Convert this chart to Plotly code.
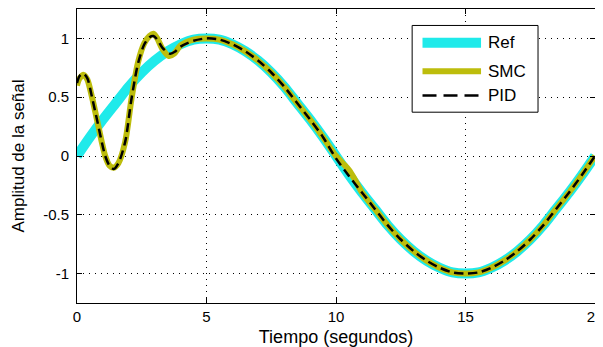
import plotly.graph_objects as go

# ---- data ----
t_ref = [i * 0.5 for i in range(41)]
y_ref = [0, 0.16, 0.31, 0.45, 0.59, 0.71, 0.81, 0.89, 0.95, 0.99, 1.0, 0.99, 0.95, 0.89, 0.81,
         0.71, 0.59, 0.45, 0.31, 0.16, 0, -0.16, -0.31, -0.45, -0.59, -0.71, -0.81, -0.89,
         -0.95, -0.99, -1.0, -0.99, -0.95, -0.89, -0.81, -0.71, -0.59, -0.45, -0.31, -0.16, 0]

t_smc = [0, 0.1, 0.26, 0.4, 0.58, 0.8, 1.09, 1.25, 1.41, 1.6, 1.86, 2.1, 2.36, 2.6, 2.8, 2.95,
         3.1, 3.3, 3.55, 3.75, 4.0, 4.5, 5, 5.5, 6, 6.5, 7, 7.5, 8, 8.5, 9, 9.5, 10, 10.3, 10.5,
         10.7, 11, 11.5, 12, 12.5, 13, 13.5, 14, 14.5, 15, 15.5, 16, 16.5, 17, 17.5, 18, 18.5,
         19, 19.5, 20]
y_smc = [0.60, 0.66, 0.69, 0.65, 0.50, 0.28, 0.0, -0.08, -0.10, -0.06, 0.12, 0.48, 0.80, 0.96,
         1.02, 1.04, 1.00, 0.91, 0.85, 0.87, 0.94, 0.99, 1.0, 0.99, 0.95, 0.89, 0.81, 0.71, 0.59,
         0.45, 0.31, 0.16, 0.0, -0.07, -0.12, -0.19, -0.31, -0.45, -0.59, -0.71, -0.81, -0.89,
         -0.95, -0.99, -1.0, -0.99, -0.95, -0.89, -0.81, -0.71, -0.59, -0.45, -0.31, -0.16, 0]

t_pid = [0, 0.1, 0.25, 0.4, 0.58, 0.8, 1.09, 1.25, 1.42, 1.6, 1.86, 2.1, 2.36, 2.6, 2.8, 2.95,
         3.1, 3.3, 3.6, 3.8, 4.0, 4.5, 5, 5.5, 6, 6.5, 7, 7.5, 8, 8.5, 9, 9.5, 10, 10.5, 11,
         11.5, 12, 12.5, 13, 13.5, 14, 14.5, 15, 15.5, 16, 16.5, 17, 17.5, 18, 18.5, 19, 19.5, 20]
y_pid = [0.62, 0.68, 0.70, 0.66, 0.50, 0.28, 0.0, -0.08, -0.11, -0.06, 0.12, 0.48, 0.79, 0.95,
         1.01, 1.02, 0.99, 0.92, 0.87, 0.89, 0.93, 0.98, 1.0, 0.99, 0.95, 0.89, 0.81, 0.71, 0.59,
         0.45, 0.31, 0.16, -0.02, -0.17, -0.31, -0.45, -0.59, -0.71, -0.81, -0.89, -0.95, -0.99,
         -1.0, -0.99, -0.95, -0.89, -0.81, -0.71, -0.59, -0.45, -0.31, -0.16, 0]

x_ticks = [0, 5, 10, 15, 20]
y_ticks = [-1, -0.5, 0, 0.5, 1]
y_tick_text = ["-1", "-0.5", "0", "0.5", "1"]
names = ["Ref", "SMC", "PID"]

FONT = "Liberation Sans, Arial, sans-serif"
styles = [
    dict(color="#1FEAEA", width=10, dash="solid", legdash="solid"),
    dict(color="#BDBD0C", width=6, dash="solid", legdash="solid"),
    dict(color="black", width=2.5, dash="9px,5px", legdash="14px,7px"),
]

fig = go.Figure()
for (tx, ty), name, st in zip([(t_ref, y_ref), (t_smc, y_smc), (t_pid, y_pid)], names, styles):
    fig.add_trace(go.Scatter(x=tx, y=ty, mode="lines", name=name, showlegend=False,
                             line=dict(color=st["color"], width=st["width"], dash=st["dash"],
                                       shape="spline", smoothing=0.8)))

# custom MATLAB-like legend box (paper coordinates)
lx0, lx1, ly0, ly1 = 0.647, 0.890, 0.649, 0.944
fig.add_shape(type="rect", xref="paper", yref="paper", x0=lx0, x1=lx1, y0=ly0, y1=ly1,
              line=dict(color="black", width=1), fillcolor="white", layer="above")
entry_y = [0.885, 0.788, 0.706]
for name, st, ey in zip(names, styles, entry_y):
    fig.add_shape(type="line", xref="paper", yref="paper", x0=0.667, x1=0.780, y0=ey, y1=ey,
                  line=dict(color=st["color"], width=st["width"], dash=st["legdash"]),
                  layer="above")
    fig.add_annotation(xref="paper", yref="paper", x=0.790, y=ey, text=name, showarrow=False,
                       xanchor="left", yanchor="middle", font=dict(family=FONT, size=17, color="black"))

axis_common = dict(showline=True, linecolor="black", linewidth=1, mirror="ticks",
                   ticks="inside", ticklen=5, tickcolor="black",
                   showgrid=True, gridcolor="black", gridwidth=1, griddash="1px,5px",
                   zeroline=False, ticklabeloverflow="allow",
                   tickfont=dict(family=FONT, size=15, color="black"))

fig.update_xaxes(range=[0, 20], tickvals=x_ticks, ticktext=[str(v) for v in x_ticks],
                 ticklabelstandoff=0,
                 title=dict(text="Tiempo (segundos)", font=dict(family=FONT, size=18, color="black"),
                            standoff=9),
                 **axis_common)
fig.update_yaxes(range=[-1.25, 1.25], tickvals=y_ticks, ticktext=y_tick_text,
                 ticklabelstandoff=4,
                 title=dict(text="Amplitud de la señal", font=dict(family=FONT, size=17, color="black"),
                            standoff=14),
                 **axis_common)

# page body has an 8px margin: figure origin sits at (8, 8) in the window
fig.update_layout(width=595, height=339, margin=dict(l=69, r=7, t=0, b=43),
                  paper_bgcolor="white", plot_bgcolor="white", showlegend=False)

fig.write_html("out.html")
